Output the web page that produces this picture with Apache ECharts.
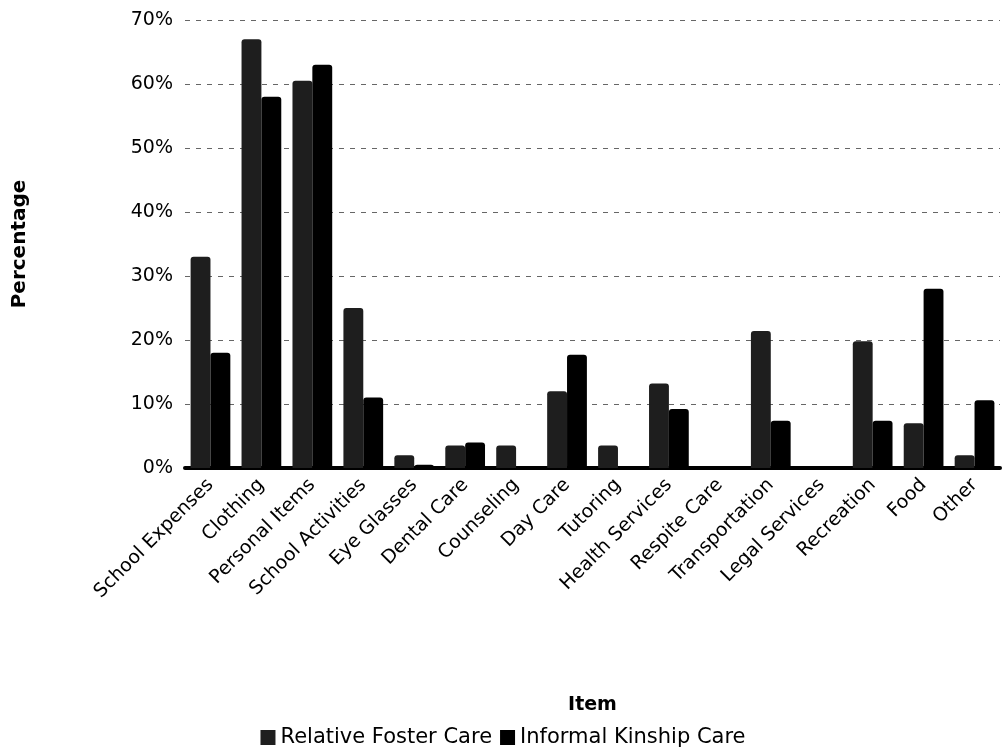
<!DOCTYPE html>
<html>
<head>
<meta charset="utf-8">
<script src="https://cdn.jsdelivr.net/npm/echarts@6/dist/echarts.min.js"></script>
<style>
  html, body { margin: 0; padding: 0; background: #fff; }
  #chart { width: 1006px; height: 755px; }
</style>
</head>
<body>
<div id="chart"></div>
<script>
// categories along the x axis
const items = ["School Expenses", "Clothing", "Personal Items", "School Activities",
  "Eye Glasses", "Dental Care", "Counseling", "Day Care", "Tutoring",
  "Health Services", "Respite Care", "Transportation", "Legal Services",
  "Recreation", "Food", "Other"];

// percentages
const relativeFoster = [33, 67, 60.5, 25, 2, 3.5, 3.5, 12, 3.5, 13.2, 0, 21.4, 0, 19.8, 7, 2];
const informalKinship = [18, 58, 63, 11, 0.5, 4, 0.3, 17.7, 0.3, 9.2, 0, 7.4, 0, 7.4, 28, 10.6];

const font = "DejaVu Sans";

let myChart = echarts.init(document.getElementById("chart"));
let option = {
  animation: false,
  grid: { left: 185, right: 6, top: 20, bottom: 287 },
  legend: {
    bottom: 2,
    left: "center",
    itemWidth: 15, itemHeight: 15, itemGap: 8,
    icon: "rect",
    textStyle: { fontFamily: font, fontSize: 21, color: "#000" },
    data: ["Relative Foster Care", "Informal Kinship Care"]
  },
  xAxis: {
    type: "category",
    data: items,
    name: "Item",
    nameLocation: "middle",
    nameGap: 228,
    nameTextStyle: { fontFamily: font, fontSize: 19, fontWeight: "bold", color: "#000" },
    axisLine: { lineStyle: { color: "#000", width: 4 } },
    axisTick: { show: false },
    axisLabel: {
      rotate: 45, interval: 0, margin: 14,
      fontFamily: font, fontSize: 19, color: "#000"
    }
  },
  yAxis: {
    type: "value",
    min: 0, max: 70, interval: 10,
    name: "Percentage",
    nameLocation: "middle",
    nameGap: 155,
    nameTextStyle: { fontFamily: font, fontSize: 20, fontWeight: "bold", color: "#000" },
    axisLine: { show: false },
    axisTick: { show: false },
    axisLabel: {
      formatter: "{value}%", margin: 12,
      fontFamily: font, fontSize: 19, color: "#000"
    },
    splitLine: { lineStyle: { color: "#666", type: [5, 6], width: 1 } }
  },
  series: [{
    name: "Relative Foster Care",
    type: "bar",
    data: relativeFoster,
    barGap: "0%",
    barCategoryGap: "22%",
    itemStyle: { color: "#1e1e1e", borderRadius: [3, 3, 0, 0] }
  }, {
    name: "Informal Kinship Care",
    type: "bar",
    data: informalKinship,
    itemStyle: { color: "#000", borderRadius: [3, 3, 0, 0] }
  }]
};
myChart.setOption(option);
</script>
</body>
</html>
